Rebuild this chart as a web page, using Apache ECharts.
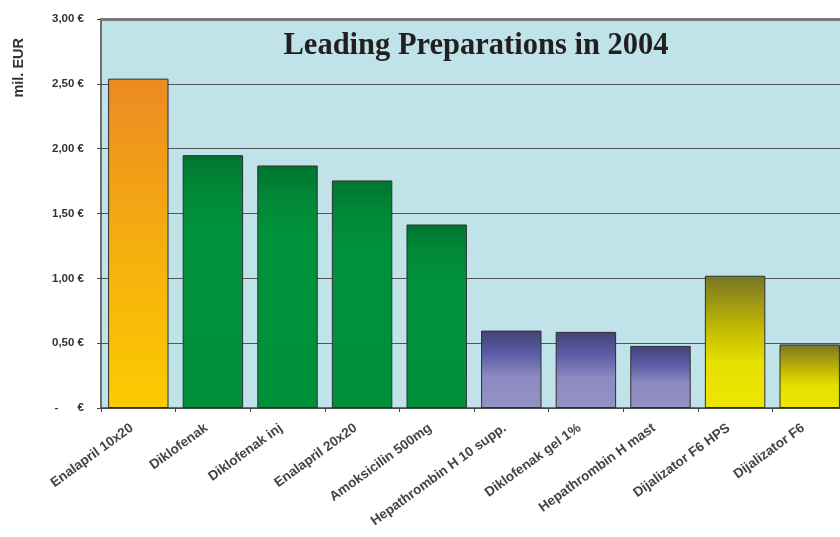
<!DOCTYPE html>
<html>
<head>
<meta charset="utf-8">
<script src="https://cdn.jsdelivr.net/npm/echarts@6/dist/echarts.min.js"></script>
<style>
html,body{margin:0;padding:0;background:#fff;overflow:hidden;width:840px;height:537px;}
#c{width:847px;height:537px;}
</style>
</head>
<body>
<div id="c"></div>
<script>
var categories = ['Enalapril 10x20','Diklofenak','Diklofenak inj','Enalapril 20x20','Amoksicilin 500mg','Hepathrombin H 10 supp.','Diklofenak gel 1%','Hepathrombin H mast','Dijalizator F6 HPS','Dijalizator F6'];
var values = [2.54, 1.95, 1.87, 1.755, 1.415, 0.597, 0.587, 0.479, 1.02, 0.49];
var groups = ['orange','green','green','green','green','purple','purple','purple','yellow','yellow'];
var yTickLabels = {0:'-      €', 0.5:'0,50 €', 1:'1,00 €', 1.5:'1,50 €', 2:'2,00 €', 2.5:'2,50 €', 3:'3,00 €'};

var palette = {
  orange: [[0,'#EC8A22'],[0.5,'#F5AE10'],[1,'#FCCB00']],
  green: [[0,'#007530'],[0.15,'#008A37'],[0.3,'#00923A'],[1,'#00903A']],
  purple: [[0,'#434375'],[0.3,'#5B5CA5'],[0.6,'#8C8AC0'],[1,'#9391C4']],
  yellow: [[0,'#777526'],[0.4,'#C2BA00'],[0.65,'#E6DF00'],[1,'#EEE600']]
};
function grad(name){
  return new echarts.graphic.LinearGradient(0,0,0,1, palette[name].map(function(s){return {offset:s[0], color:s[1]};}));
}

var chart = echarts.init(document.getElementById('c'), null, {renderer:'canvas'});
chart.setOption({
  animation:false,
  backgroundColor:'#ffffff',
  title:{
    text:'Leading Preparations in 2004',
    left:471, top:26, textAlign:'center',
    textStyle:{fontFamily:'Liberation Serif', fontWeight:'bold', fontSize:30.5, color:'#231f20'}
  },
  graphic:[{
    type:'text', left:11, top:38, rotation:Math.PI/2,
    style:{text:'mil. EUR', font:'bold 14.5px "Liberation Sans"', fill:'#333'}
  }],
  grid:{left:101, right:0, top:19, bottom:129, show:true, backgroundColor:'#C0E3EA', borderWidth:0},
  xAxis:[{
    type:'category', data:categories,
    axisLine:{lineStyle:{color:'#444', width:1.5}},
    axisTick:{show:true, length:4, lineStyle:{color:'#444'}},
    axisLabel:{rotate:36, margin:14, padding:[0,8,0,0], fontFamily:'Liberation Sans', fontWeight:'bold', fontSize:13.5, color:'#444', interval:0}
  },{
    type:'category', data:categories, position:'top',
    axisLine:{show:true, lineStyle:{color:'#7a7a7a', width:3}},
    axisTick:{show:false}, axisLabel:{show:false}
  }],
  yAxis:{
    type:'value', min:0, max:3, interval:0.5,
    axisLine:{show:true, lineStyle:{color:'#444', width:1.5}},
    axisTick:{show:true, length:4, lineStyle:{color:'#444'}},
    axisLabel:{margin:17, fontFamily:'Liberation Sans', fontWeight:'bold', fontSize:11.5, color:'#333',
      formatter:function(v){return yTickLabels[v];}},
    splitLine:{show:true, lineStyle:{color:'#555', width:1.2}}
  },
  series:[{
    type:'bar', barCategoryGap:'19%', xAxisIndex:0,
    data:values.map(function(v,i){
      return {value:v, itemStyle:{color:grad(groups[i]), borderColor:'#2f2f2f', borderWidth:1}};
    })
  }]
});
</script>
</body>
</html>
